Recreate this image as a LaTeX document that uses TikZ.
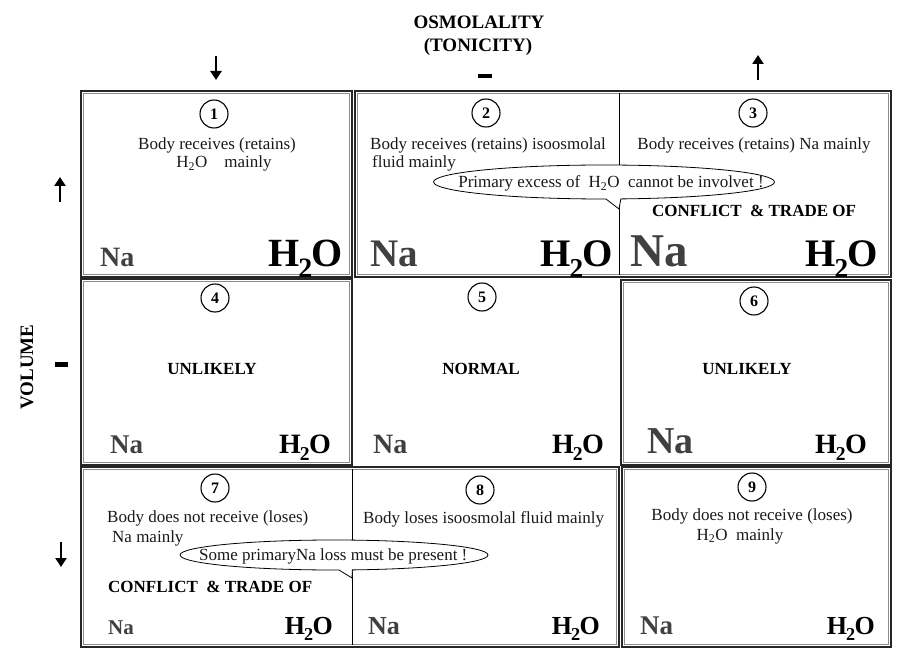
\documentclass[tikz,border=0pt]{standalone}
\usepackage{fontspec}
\setmainfont{Liberation Serif}
\usetikzlibrary{arrows.meta,shapes.callouts}

% water formula with a dropped, reduced subscript
\newcommand\wat{H\kern-.04em\raisebox{-.26em}{\scalebox{.7}{2}}\kern-.02em O}
\newcommand\fs[1]{\fontsize{#1}{#1}\selectfont}

\tikzset{
  x=1pt, y=-1pt,
  grp/.style={draw=black!85, line width=1.3pt},
  grpin/.style={draw=black!45, line width=1.5pt},
  divider/.style={draw=black, line width=0.8pt},
  num/.style={circle, draw, line width=1.1pt, minimum size=28pt, inner sep=0pt, font=\bfseries\fs{16}},
  txt/.style={inner sep=0pt, font=\fs{17}, text=black!90},
  bold/.style={inner sep=0pt, font=\bfseries\fs{17}},
  nalab/.style={inner sep=0pt, text=black!75, font=\bfseries\fs{#1}},
  wlab/.style={inner sep=0pt, font=\bfseries\fs{#1}},
  axis/.style={line width=2.8pt, -{Triangle[width=11pt,length=9pt]}},
  bubble/.style={ellipse callout, draw, fill=white, line width=0.8pt, inner sep=0pt,
                 callout pointer arc=5},
}

\begin{document}
\begin{tikzpicture}
\useasboundingbox (0,0) rectangle (899,652);

% ---- axis titles and trend marks ----
\node[inner sep=0pt, anchor=base, font=\bfseries\fs{19}] (osm) at (479,29) {OSMOLALITY};
\node[inner sep=0pt, anchor=base, font=\bfseries\fs{19}] (ton) at (478,52) {(TONICITY)};
\node[inner sep=0pt, rotate=90, font=\bfseries\fs{19}] (vol) at (27,367) {VOLUME};

\draw[axis] (216,56) -- (216,80);
\fill (478,74) rectangle (492,78.5);
\draw[axis] (758,80) -- (758,55);

\draw[axis] (60,202) -- (60,177);
\fill (55,362) rectangle (68,367);
\draw[axis] (61,542) -- (61,567);

% ---- cell frames ----
\draw[grp] (81,91) rectangle (352,277);
\draw[grpin] (83.5,93.5) rectangle (349.5,274.5);

\draw[grp] (355,91) rectangle (891,277);
\draw[grpin] (357.5,93.5) rectangle (888.5,274.5);
\draw[divider] (619,93) -- (619,275);

\draw[grp] (81,279) rectangle (352,465);
\draw[grpin] (83.5,281.5) rectangle (349.5,462.5);

\draw[grp] (621,280) rectangle (891,465);
\draw[grpin] (623.5,282.5) rectangle (888.5,462.5);

\draw[grp] (81,467) rectangle (619,647);
\draw[grpin] (83.5,469.5) rectangle (616.5,644.5);
\draw[divider] (352,469) -- (352,645);

\draw[grp] (622,467) rectangle (891,647);
\draw[grpin] (624.5,469.5) rectangle (888.5,644.5);

% ---- cell numbers ----
\node[num] (n1) at (214,114) {1};
\node[num] (n2) at (486,113) {2};
\node[num] (n3) at (753,113) {3};
\node[num] (n4) at (215,298) {4};
\node[num] (n5) at (482,297) {5};
\node[num] (n6) at (754,301) {6};
\node[num] (n7) at (215,488) {7};
\node[num] (n8) at (480,490) {8};
\node[num] (n9) at (752,487) {9};

% ---- row 1 ----
\node[txt, anchor=base] (t1a) at (217,150) {Body receives (retains)};
\node[txt, anchor=base] (t1b) at (224,168) {H\textsubscript{2}O\quad mainly};
\node[txt, anchor=base west] (t2a) at (370,150) {Body receives (retains) isoosmolal};
\node[txt, anchor=base west] (t2b) at (372,168) {fluid mainly};
\node[txt, anchor=base] (t3a) at (754,150) {Body receives (retains) Na mainly};

\coordinate (tipA) at (619,209);
\node[bubble, minimum width=341pt, minimum height=34pt, callout absolute pointer={(tipA)}]
  (callA) at (604,182) {};
\node[txt, anchor=base] (callAtext) at (611,188) {Primary excess of\ \ H\textsubscript{2}O\ \ cannot be involvet !};

\node[bold, anchor=base] (c3) at (754,217) {CONFLICT\ \ \& TRADE OF};

\node[nalab=28, anchor=base west] (na1) at (100,267) {Na};
\node[wlab=40, anchor=base east] (w1) at (343,267) {\wat};
\node[nalab=39, anchor=base west] (na2) at (370,267) {Na};
\node[wlab=39, anchor=base east] (w2) at (613,267) {\wat};
\node[nalab=47, anchor=base west] (na3) at (630,267) {Na};
\node[wlab=39, anchor=base east] (w3) at (878,267) {\wat};

% ---- row 2 ----
\node[bold, anchor=base] (u4) at (212,374) {UNLIKELY};
\node[bold, anchor=base] (m5) at (481,374) {NORMAL};
\node[bold, anchor=base] (u6) at (747,374) {UNLIKELY};

\node[nalab=27, anchor=base west] (na4) at (110,453) {Na};
\node[wlab=28, anchor=base east] (w4) at (331,453) {\wat};
\node[nalab=28, anchor=base west] (na5) at (373,453) {Na};
\node[wlab=28, anchor=base east] (w5) at (604,453) {\wat};
\node[nalab=38, anchor=base west] (na6) at (647,453) {Na};
\node[wlab=28, anchor=base east] (w6) at (867,453) {\wat};

% ---- row 3 ----
\node[txt, anchor=base west] (t7a) at (107,522) {Body does not receive (loses)};
\node[txt, anchor=base west] (t7b) at (112,542) {Na mainly};
\node[txt, anchor=base west] (t8a) at (363,523) {Body loses isoosmolal fluid mainly};
\node[txt, anchor=base] (t9a) at (752,520) {Body does not receive (loses)};
\node[txt, anchor=base] (t9b) at (740,540) {H\textsubscript{2}O\ \ mainly};

\coordinate (tipB) at (352,578);
\node[bubble, minimum width=308pt, minimum height=30pt, callout absolute pointer={(tipB)}]
  (callB) at (334,555) {};
\node[txt, anchor=base west] (callBtext) at (199,560) {Some primaryNa loss must be present !};

\node[bold, anchor=base west] (c7) at (108,592) {CONFLICT\ \ \& TRADE OF};

\node[nalab=21, anchor=base west] (na7) at (108,634) {Na};
\node[wlab=26, anchor=base east] (w7) at (333,634) {\wat};
\node[nalab=26, anchor=base west] (na8) at (368,634) {Na};
\node[wlab=26, anchor=base east] (w8) at (600,634) {\wat};
\node[nalab=27, anchor=base west] (na9) at (640,634) {Na};
\node[wlab=26, anchor=base east] (w9) at (875,634) {\wat};
\end{tikzpicture}
\end{document}
